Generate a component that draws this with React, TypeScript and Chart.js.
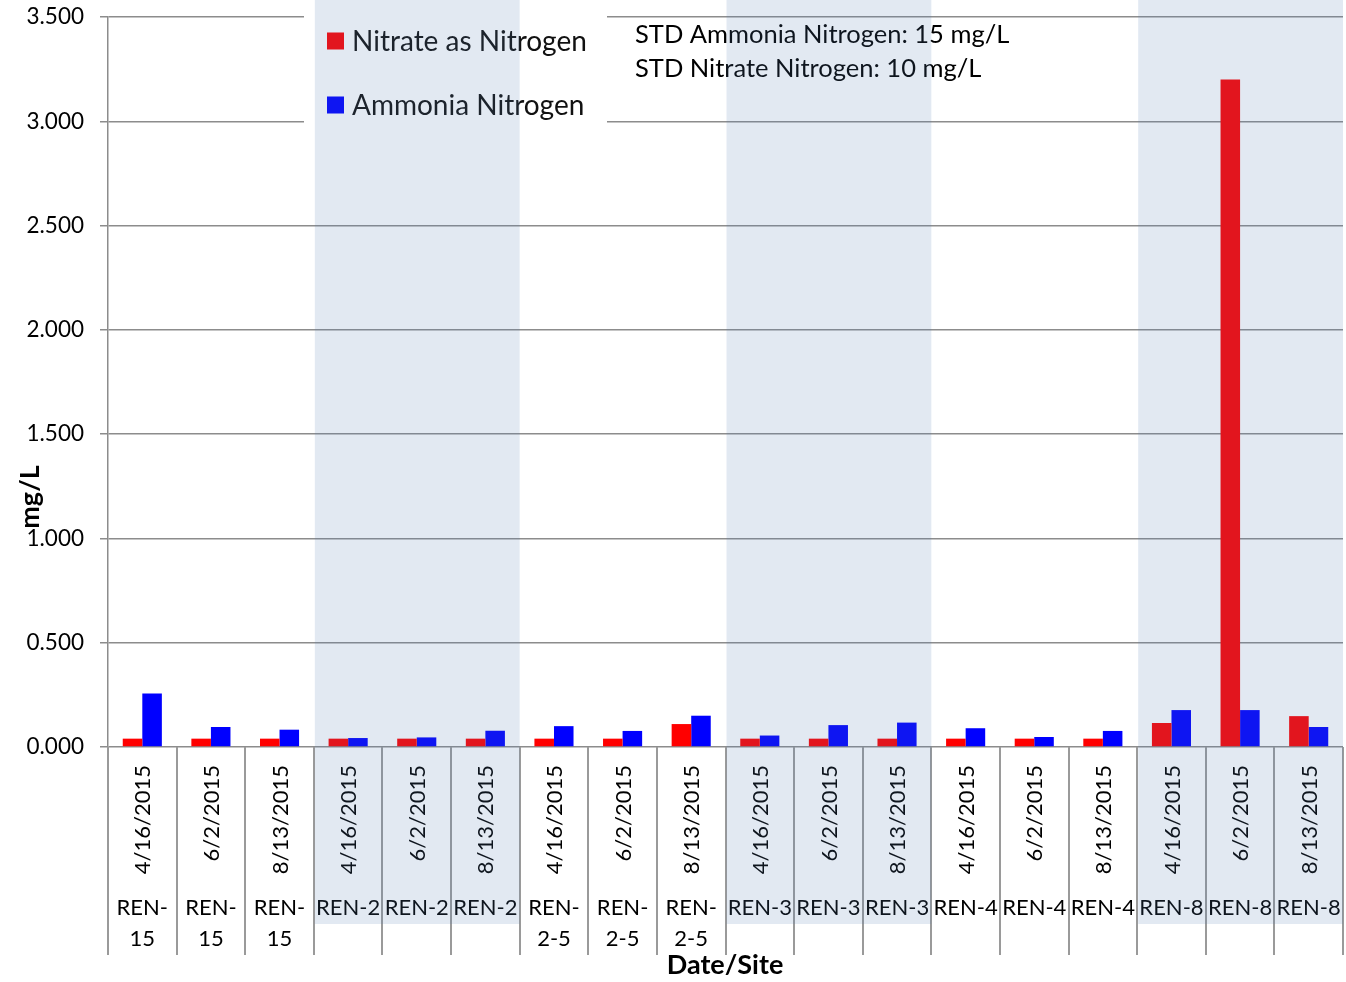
import React, { useEffect, useRef } from 'react';
import { Chart, registerables } from 'chart.js';

Chart.register(...registerables);

const dates = [
  '4/16/2015', '6/2/2015', '8/13/2015',
  '4/16/2015', '6/2/2015', '8/13/2015',
  '4/16/2015', '6/2/2015', '8/13/2015',
  '4/16/2015', '6/2/2015', '8/13/2015',
  '4/16/2015', '6/2/2015', '8/13/2015',
  '4/16/2015', '6/2/2015', '8/13/2015',
];
const sites = [
  'REN-15', 'REN-15', 'REN-15',
  'REN-2', 'REN-2', 'REN-2',
  'REN-2-5', 'REN-2-5', 'REN-2-5',
  'REN-3', 'REN-3', 'REN-3',
  'REN-4', 'REN-4', 'REN-4',
  'REN-8', 'REN-8', 'REN-8',
];
const nitrate = [0.04, 0.04, 0.04, 0.04, 0.04, 0.04, 0.04, 0.04, 0.11, 0.04, 0.04, 0.04, 0.04, 0.04, 0.04, 0.115, 3.2, 0.148];
const ammonia = [0.257, 0.096, 0.083, 0.043, 0.046, 0.078, 0.1, 0.077, 0.15, 0.055, 0.105, 0.117, 0.09, 0.048, 0.077, 0.177, 0.177, 0.096];
const seriesNames = ['Nitrate as Nitrogen', 'Ammonia Nitrogen'];
const seriesColors = ['#FF0000', '#0000FF'];
const shadedSites = ['REN-2', 'REN-3', 'REN-8'];
const noteLines = ['STD Ammonia Nitrogen: 15 mg/L', 'STD Nitrate Nitrogen: 10 mg/L'];
const yTitle = 'mg/L';
const xTitle = 'Date/Site';

const FONT = 'Lato';

function splitSite(s: string): string[] {
  if (s.length > 5) {
    const k = s.indexOf('-');
    return [s.slice(0, k + 1), s.slice(k + 1)];
  }
  return [s];
}

const decoPlugin = {
  id: 'deco',
  beforeDatasetsDraw(chart: any) {
    const ctx = chart.ctx;
    ctx.save();
    ctx.fillStyle = '#ffffff';
    ctx.fillRect(304, 0, 303, 128);
    ctx.restore();
  },
  afterDraw(chart: any) {
    const ctx = chart.ctx;
    const xs = chart.scales.x;
    const area = chart.chartArea;
    const n = dates.length;
    const w = (area.right - area.left) / n;
    const boundary = (k: number) => area.left + k * w;

    ctx.save();
    // legend
    ctx.textAlign = 'left';
    ctx.textBaseline = 'middle';
    ctx.font = `28px ${FONT}`;
    const legY = [41, 105];
    seriesNames.forEach((name, i) => {
      ctx.fillStyle = seriesColors[i];
      ctx.fillRect(327, legY[i] - 8.5, 17, 17);
      ctx.fillStyle = '#111';
      ctx.fillText(name, 352, legY[i] + 1);
    });
    // notes
    ctx.font = `25.5px ${FONT}`;
    ctx.fillStyle = '#000';
    noteLines.forEach((t, i) => ctx.fillText(t, 635, 35 + i * 34));

    // category separators
    ctx.strokeStyle = '#9a9a9a';
    ctx.lineWidth = 2;
    for (let k = 0; k <= n; k++) {
      const x = Math.round(boundary(k));
      ctx.beginPath();
      ctx.moveTo(x, area.bottom);
      ctx.lineTo(x, 955);
      ctx.stroke();
    }

    // date labels
    ctx.fillStyle = '#000';
    ctx.font = `22px ${FONT}`;
    for (let i = 0; i < n; i++) {
      const x = xs.getPixelForValue(i);
      ctx.save();
      ctx.translate(x + 1, 765);
      ctx.rotate(-Math.PI / 2);
      ctx.textAlign = 'right';
      ctx.textBaseline = 'middle';
      ctx.fillText(dates[i], 0, 0);
      ctx.restore();
    }
    // site labels
    ctx.textAlign = 'center';
    ctx.textBaseline = 'middle';
    ctx.font = `22px ${FONT}`;
    for (let i = 0; i < n; i++) {
      const x = xs.getPixelForValue(i);
      splitSite(sites[i]).forEach((line, j) => ctx.fillText(line, x, 908 + j * 31));
    }

    // axis titles
    ctx.font = `bold 27px ${FONT}`;
    ctx.fillText(xTitle, 725, 965);
    ctx.save();
    ctx.translate(30, 497);
    ctx.rotate(-Math.PI / 2);
    ctx.font = `bold 27px ${FONT}`;
    ctx.fillText(yTitle, 0, 0);
    ctx.restore();

    // shaded bands overlay
    ctx.fillStyle = 'rgba(84,126,178,0.17)';
    let i = 0;
    while (i < n) {
      let j = i;
      while (j + 1 < n && sites[j + 1] === sites[i]) j++;
      if (shadedSites.includes(sites[i])) {
        const x0 = boundary(i) + 1;
        const x1 = boundary(j + 1);
        ctx.fillRect(x0, 0, x1 - x0, 924);
      }
      i = j + 1;
    }
    ctx.restore();
  },
};

export default function App() {
  const ref = useRef<HTMLCanvasElement | null>(null);
  useEffect(() => {
    let chart: Chart | null = null;
    let cancelled = false;
    const make = () => {
      if (cancelled || !ref.current) return;
      chart = new Chart(ref.current, {
        type: 'bar',
        data: {
          labels: dates.map((d, i) => `${d} ${sites[i]}`),
          datasets: [
            { label: seriesNames[0], data: nitrate, backgroundColor: seriesColors[0], borderWidth: 0, barPercentage: 1, categoryPercentage: 0.57 },
            { label: seriesNames[1], data: ammonia, backgroundColor: seriesColors[1], borderWidth: 0, barPercentage: 1, categoryPercentage: 0.57 },
          ],
        },
        options: {
          responsive: false,
          animation: false,
          layout: { padding: { left: 0, top: 17, right: 3, bottom: 235 } },
          plugins: { legend: { display: false }, tooltip: { enabled: false }, title: { display: false } },
          scales: {
            x: { display: false },
            y: {
              min: 0,
              max: 3.5,
              ticks: {
                stepSize: 0.5,
                callback: (v: any) => Number(v).toFixed(3),
                font: { family: FONT, size: 22.5 },
                color: '#000',
                padding: 16,
              },
              grid: { color: '#8c8c8c', lineWidth: 1.5, tickLength: 8, drawTicks: true },
              border: { color: '#8c8c8c', width: 1.5 },
              afterFit: (s: any) => { s.width = 108; s.paddingTop = 0; s.paddingBottom = 0; },
            },
          },
        },
        plugins: [decoPlugin],
      } as any);
    };
    const fonts = (document as any).fonts;
    if (fonts && fonts.load) {
      Promise.all([fonts.load(`21px ${FONT}`), fonts.load(`bold 24px ${FONT}`)]).then(make, make);
    } else {
      make();
    }
    return () => {
      cancelled = true;
      if (chart) chart.destroy();
    };
  }, []);
  return (
    <div style={{ position: 'absolute', left: 0, top: 0, width: 1346, height: 982 }}>
      <canvas ref={ref} width={1346} height={982} style={{ display: 'block' }} />
    </div>
  );
}
